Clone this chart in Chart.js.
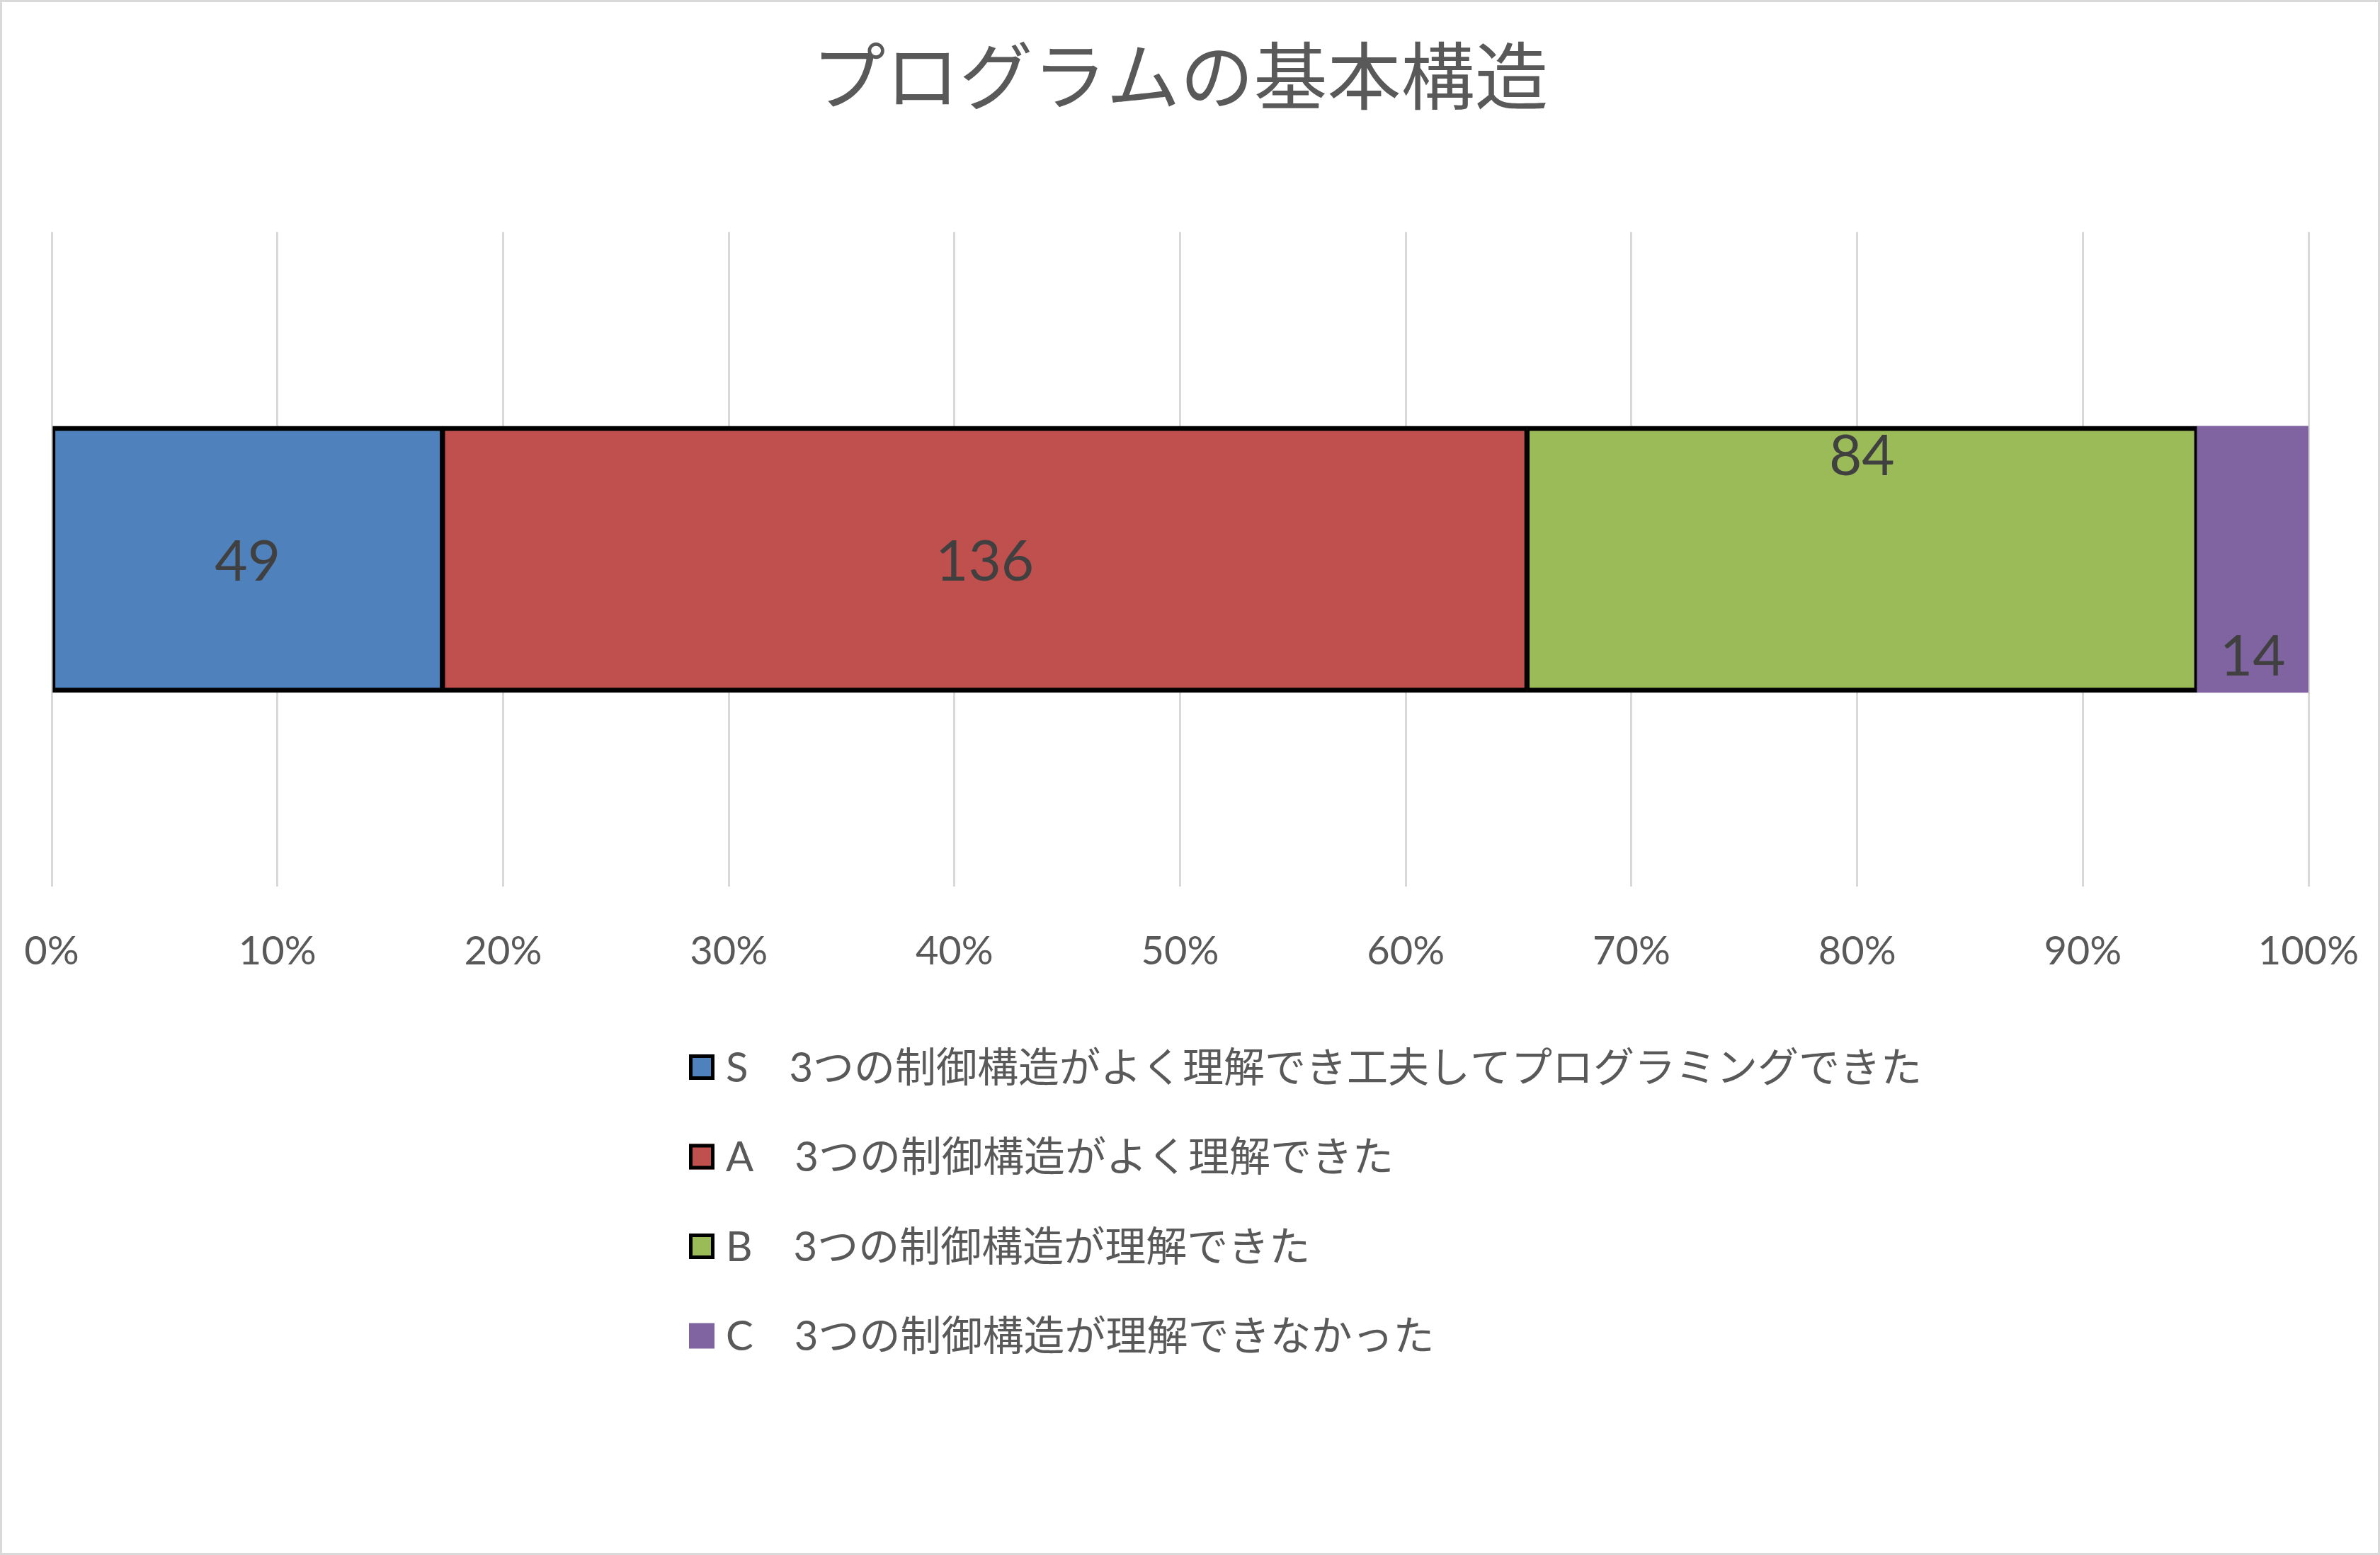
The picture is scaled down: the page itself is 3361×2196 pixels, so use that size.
<!DOCTYPE html>
<html lang="ja">
<head>
<meta charset="utf-8">
<title>プログラムの基本構造</title>
<script src="https://cdn.jsdelivr.net/npm/chart.js@4.4.1/dist/chart.umd.min.js"></script>
<style>
  html, body { margin: 0; padding: 0; background: #fff; }
  #wrap { width: 3361px; height: 2196px; }
</style>
</head>
<body>
<div id="wrap"><canvas id="chart" width="3361" height="2196"></canvas></div>
<script>
// ---- data ----
const chartTitle = 'プログラムの基本構造';
const categories = [''];
const seriesNames = [
    'S　3つの制御構造がよく理解でき工夫してプログラミングできた',
    'A　3つの制御構造がよく理解できた',
    'B　3つの制御構造が理解できた',
    'C　3つの制御構造が理解できなかった'
];
const seriesCounts = [49, 136, 84, 14];
const xTickLabels = ['0%', '10%', '20%', '30%', '40%', '50%', '60%', '70%', '80%', '90%', '100%'];

// ---- styles ----
const seriesColors = ['#4f81bd', '#c0504d', '#9bbb59', '#8064a2'];
const seriesOutlined = [true, true, true, false];
const labelPlacement = ['center', 'center', 'top', 'bottom'];
const textGrey = '#595959';
const latinFont = "Lato, 'Noto Sans CJK JP', sans-serif";
const cjkFont = "'Noto Sans CJK JP', sans-serif";

const total = seriesCounts.reduce((s, v) => s + v, 0);

// white background + thin frame
const framePlugin = {
    id: 'frame',
    beforeDraw(chart) {
        const ctx = chart.ctx;
        ctx.save();
        ctx.fillStyle = '#ffffff';
        ctx.fillRect(0, 0, chart.width, chart.height);
        ctx.restore();
    },
    afterDraw(chart) {
        const ctx = chart.ctx;
        ctx.save();
        ctx.strokeStyle = '#d9d9d9';
        ctx.lineWidth = 3;
        ctx.strokeRect(1.5, 1.5, chart.width - 3, chart.height - 3);
        ctx.restore();
    }
};

// counts written on the segments
const valueLabelPlugin = {
    id: 'valueLabels',
    afterDatasetsDraw(chart) {
        const ctx = chart.ctx;
        const fs = 80;
        ctx.save();
        ctx.font = `${fs}px ${latinFont}`;
        ctx.fillStyle = '#404040';
        ctx.textAlign = 'center';
        ctx.textBaseline = 'alphabetic';
        chart.data.datasets.forEach((ds, i) => {
            const bar = chart.getDatasetMeta(i).data[0];
            if (!bar) return;
            const p = bar.getProps(['x', 'y', 'base', 'height'], true);
            const cx = (p.x + p.base) / 2;
            const top = p.y - p.height / 2;
            const bottom = p.y + p.height / 2;
            let y;
            if (labelPlacement[i] === 'top') y = top + fs * 0.87;
            else if (labelPlacement[i] === 'bottom') y = bottom - fs * 0.3;
            else y = p.y + fs * 0.38;
            ctx.fillText(String(ds.count), cx, y);
        });
        ctx.restore();
    }
};

// legend as a single column under the axis
const columnLegendPlugin = {
    id: 'columnLegend',
    afterDraw(chart, args, opts) {
        const ctx = chart.ctx;
        ctx.save();
        ctx.font = `${opts.fontSize}px ${latinFont}`;
        ctx.textBaseline = 'middle';
        ctx.textAlign = 'left';
        chart.data.datasets.forEach((ds, i) => {
            const cy = opts.top + i * opts.rowStep;
            const s = opts.box;
            const bx = opts.left;
            const by = cy - s / 2;
            ctx.fillStyle = ds.backgroundColor;
            ctx.fillRect(bx, by, s, s);
            if (seriesOutlined[i]) {
                ctx.strokeStyle = '#000';
                ctx.lineWidth = 5;
                ctx.strokeRect(bx + 2.5, by + 2.5, s - 5, s - 5);
            }
            ctx.fillStyle = textGrey;
            ctx.fillText(ds.label, bx + s + opts.gap, cy + 2);
        });
        ctx.restore();
    }
};

const ctx = document.getElementById('chart');

new Chart(ctx, {
    type: 'bar',
    data: {
        labels: categories,
        datasets: seriesNames.map((name, i) => ({
            label: name,
            data: [seriesCounts[i] / total * 100],
            count: seriesCounts[i],
            backgroundColor: seriesColors[i],
            borderColor: '#000000',
            borderWidth: seriesOutlined[i] ? { top: 7, bottom: 7, left: 4, right: 4 } : 0,
            borderSkipped: false,
            barThickness: 376
        }))
    },
    options: {
        indexAxis: 'y',
        responsive: false,
        animation: false,
        devicePixelRatio: 1,
        layout: {
            padding: { left: 73, right: 101, top: 0, bottom: 759 }
        },
        scales: {
            x: {
                stacked: true,
                min: 0,
                max: 100,
                border: { display: false },
                grid: { color: '#d9d9d9', lineWidth: 3, drawTicks: false },
                ticks: {
                    stepSize: 10,
                    padding: 59,
                    color: textGrey,
                    font: { family: latinFont, size: 56 },
                    callback: (v, i) => xTickLabels[i]
                },
                // keep the plot edges where the layout padding puts them
                afterFit: (scale) => {
                    scale.paddingLeft = 0;
                    scale.paddingRight = 0;
                }
            },
            y: {
                stacked: true,
                display: false
            }
        },
        plugins: {
            title: {
                display: true,
                text: chartTitle,
                color: textGrey,
                font: { family: cjkFont, size: 104, weight: 'normal', lineHeight: 1.2 },
                padding: { top: 45, bottom: 158 }
            },
            legend: { display: false },
            tooltip: { enabled: false },
            columnLegend: {
                left: 973,
                top: 1507,
                rowStep: 126.5,
                box: 36,
                gap: 16,
                fontSize: 58
            }
        }
    },
    plugins: [framePlugin, valueLabelPlugin, columnLegendPlugin]
});
</script>
</body>
</html>
